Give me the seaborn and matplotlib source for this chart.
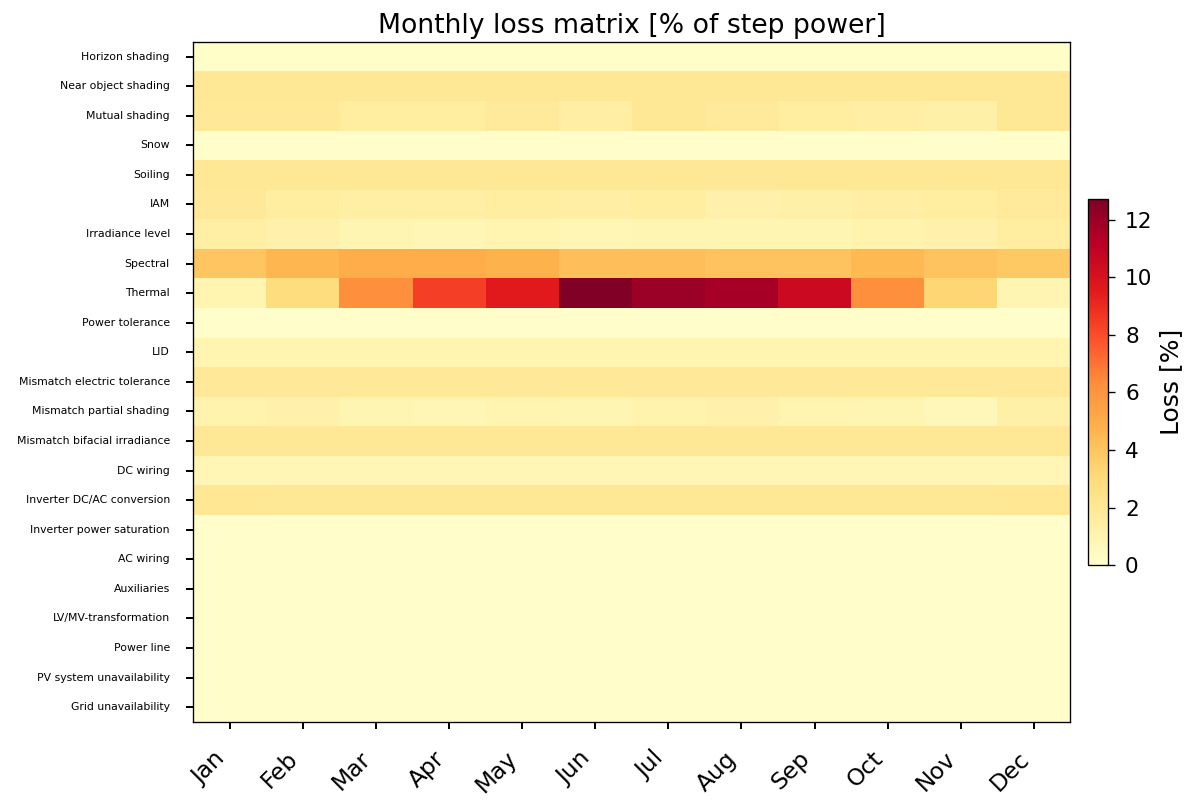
import numpy as np
import pandas as pd
import matplotlib
matplotlib.use('Agg')
import matplotlib.pyplot as plt
import seaborn as sns

months = ['Jan', 'Feb', 'Mar', 'Apr', 'May', 'Jun', 'Jul', 'Aug', 'Sep', 'Oct', 'Nov', 'Dec']

loss_names = [
    'Horizon shading', 'Near object shading', 'Mutual shading', 'Snow', 'Soiling', 'IAM',
    'Irradiance level', 'Spectral', 'Thermal', 'Power tolerance', 'LID',
    'Mismatch electric tolerance', 'Mismatch partial shading', 'Mismatch bifacial irradiance',
    'DC wiring', 'Inverter DC/AC conversion', 'Inverter power saturation', 'AC wiring',
    'Auxiliaries', 'LV/MV-transformation', 'Power line', 'PV system unavailability',
    'Grid unavailability',
]

horizon = [0.1] * 12
near_object = [2.0] * 12
mutual = [1.9, 1.9, 1.6, 1.6, 1.8, 1.5, 2.0, 1.8, 1.6, 1.5, 1.3, 2.0]
snow = [0.05] * 12
soiling = [2.0] * 12
iam = [1.9, 1.6, 1.4, 1.4, 1.6, 1.5, 1.6, 1.2, 1.3, 1.5, 1.6, 1.8]
irradiance = [1.4, 1.2, 0.9, 0.8, 1.0, 0.8, 0.9, 0.9, 0.9, 1.1, 1.2, 1.6]
spectral = [4.0, 4.6, 5.0, 5.0, 4.8, 4.3, 4.3, 4.1, 4.1, 4.5, 4.1, 3.9]
thermal = [1.0, 2.9, 6.3, 8.4, 9.6, 12.7, 12.0, 11.7, 10.5, 6.3, 3.3, 0.9]
power_tol = [0.05] * 12
lid = [1.0] * 12
mm_electric = [1.9] * 12
mm_partial = [1.1, 1.2, 0.9, 0.8, 1.0, 0.9, 1.1, 1.2, 1.0, 0.9, 0.7, 1.3]
mm_bifacial = [2.0] * 12
dc_wiring = [0.8] * 12
inv_conv = [2.1, 2.0, 2.0, 2.0, 2.0, 2.0, 2.0, 2.0, 2.0, 2.0, 2.0, 2.1]
inv_sat = [0.05] * 12
ac_wiring = [0.05] * 12
auxiliaries = [0.05] * 12
lvmv = [0.05] * 12
power_line = [0.05] * 12
pv_unavail = [0.05] * 12
grid_unavail = [0.05] * 12

rows = [horizon, near_object, mutual, snow, soiling, iam, irradiance, spectral, thermal,
        power_tol, lid, mm_electric, mm_partial, mm_bifacial, dc_wiring, inv_conv, inv_sat,
        ac_wiring, auxiliaries, lvmv, power_line, pv_unavail, grid_unavail]

df = pd.DataFrame(rows, index=loss_names, columns=months)

fig = plt.figure(figsize=(10, 6.7), dpi=120)
ax = fig.add_axes([0.161, 0.102, 0.731, 0.846])
cax = fig.add_axes([0.907, 0.297, 0.0167, 0.455])

sns.heatmap(df, ax=ax, cmap='YlOrRd', vmin=0, vmax=12.7, cbar_ax=cax,
            cbar_kws={'ticks': [0, 2, 4, 6, 8, 10, 12]})

# heatmap drops the frame, put it back
for side in ax.spines.values():
    side.set_visible(True)
    side.set_linewidth(0.8)
    side.set_color('black')

ax.set_title('Monthly loss matrix [% of step power]', fontsize=16, pad=5)
ax.set_xticklabels(months, rotation=45, fontsize=14, ha='right')
ax.set_yticklabels(loss_names, rotation=0, fontsize=6.5, va='center')
ax.tick_params(axis='both', direction='out', length=4, width=1.2)
ax.tick_params(axis='y', pad=10)
ax.tick_params(axis='x', pad=11)

cb = ax.collections[0].colorbar
cb.outline.set_linewidth(0.8)
cb.outline.set_edgecolor('black')
cb.ax.tick_params(labelsize=13, length=4, pad=6)
cb.set_label('Loss [%]', fontsize=15, labelpad=4)

fig.savefig('out.png', dpi=120)
